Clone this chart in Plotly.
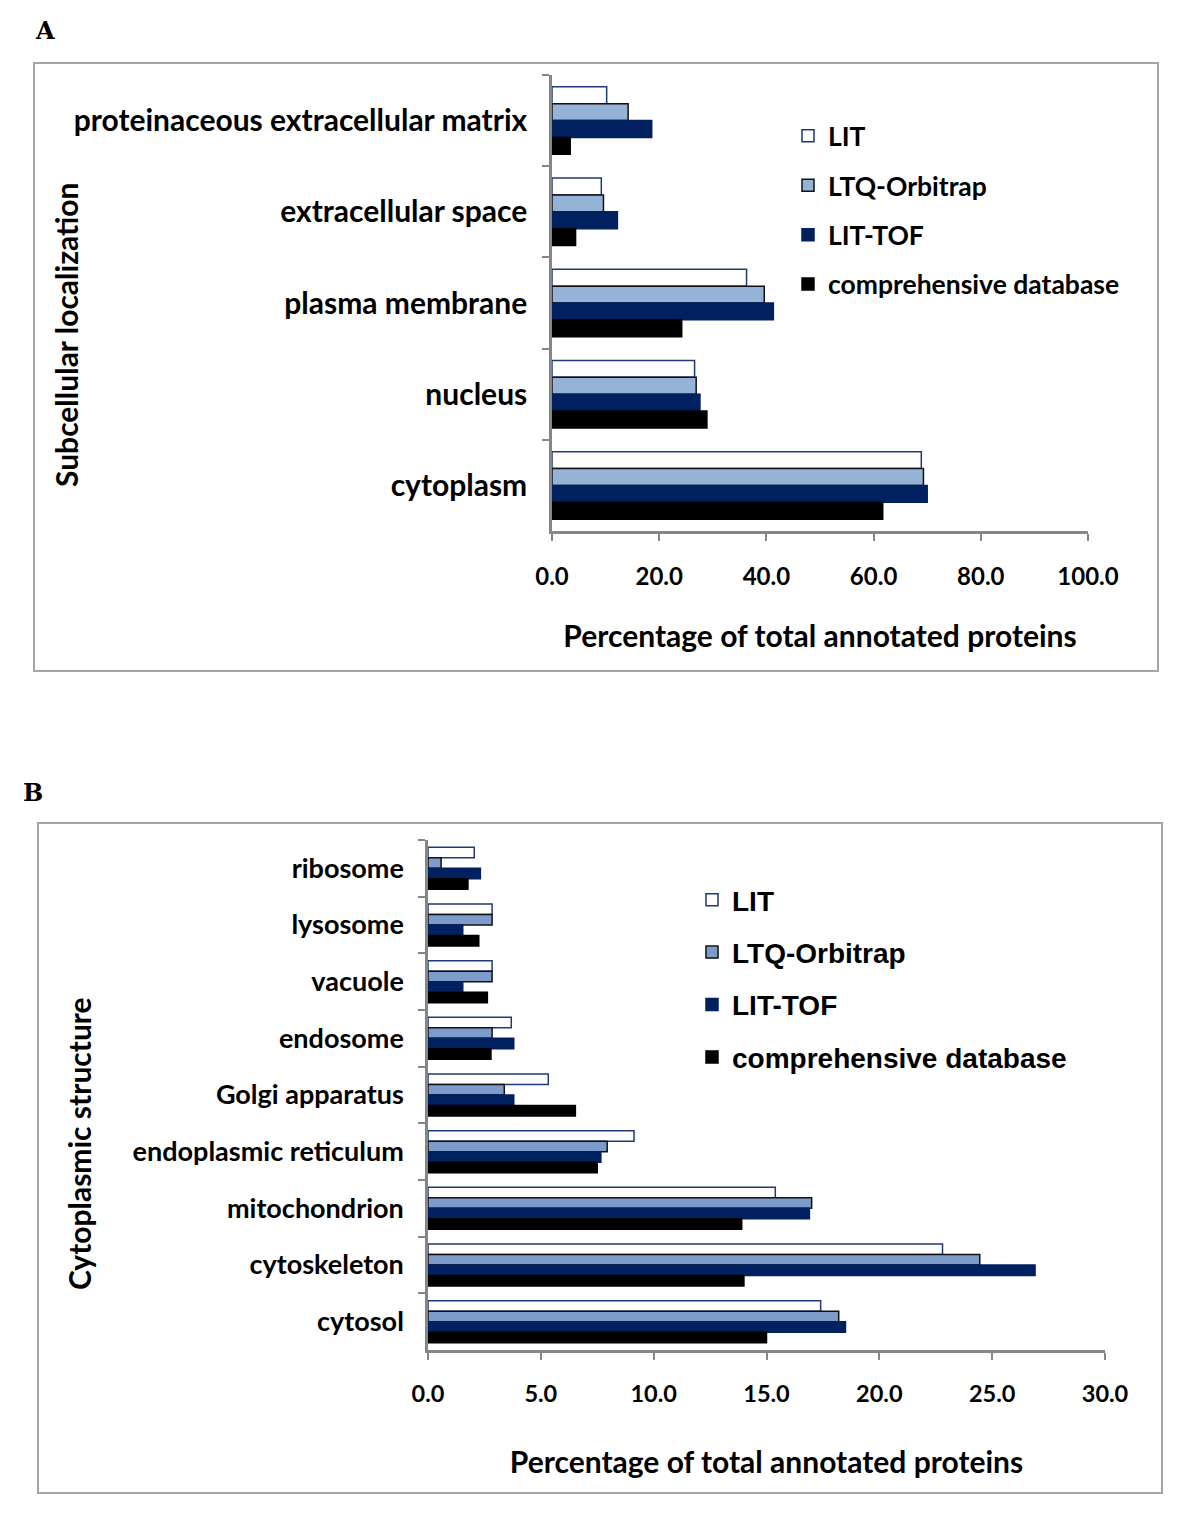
import plotly.graph_objects as go

W, H = 1200, 1534

# ---------------- data ----------------
series = ["LIT", "LTQ-Orbitrap", "LIT-TOF", "comprehensive database"]

cats_a = ["proteinaceous extracellular matrix", "extracellular space",
          "plasma membrane", "nucleus", "cytoplasm"]
lit_a = [10.2, 9.2, 36.3, 26.6, 68.9]
ltq_a = [14.2, 9.6, 39.6, 26.9, 69.3]
tof_a = [18.6, 12.2, 41.3, 27.6, 70.0]
comp_a = [3.4, 4.4, 24.2, 28.9, 61.7]

cats_b = ["ribosome", "lysosome", "vacuole", "endosome", "Golgi apparatus",
          "endoplasmic reticulum", "mitochondrion", "cytoskeleton", "cytosol"]
lit_b = [2.05, 2.84, 2.84, 3.69, 5.33, 9.13, 15.39, 22.8, 17.4]
ltq_b = [0.58, 2.84, 2.84, 2.84, 3.38, 7.94, 17.0, 24.45, 18.2]
tof_b = [2.32, 1.54, 1.54, 3.80, 3.80, 7.66, 16.9, 26.9, 18.5]
comp_b = [1.77, 2.25, 2.63, 2.79, 6.53, 7.5, 13.9, 14.0, 15.0]

xticks_a = [0, 20, 40, 60, 80, 100]
xticks_b = [0, 5, 10, 15, 20, 25, 30]

# ---------------- styles ----------------
fill_a = ["#FFFFFF", "#95B3D7", "#002060", "#000000"]
line_a = ["#1F3A78", "#111111", "#002060", "#000000"]
fill_b = ["#FFFFFF", "#7E9CCB", "#002060", "#000000"]
line_b = ["#1F3A78", "#111111", "#002060", "#000000"]

FONT_A = "Lato"
FONT_B = "Liberation Sans"
OFF = 8  # page body margin


def px(x):
    return (x - OFF) / W


def py(y):
    return 1 - (y - OFF) / H


fig = go.Figure()

for i, (name, vals) in enumerate(zip(series, [lit_a, ltq_a, tof_a, comp_a])):
    fig.add_trace(go.Bar(
        y=cats_a, x=vals, name=name, orientation="h",
        marker=dict(color=fill_a[i], line=dict(color=line_a[i], width=1.5)),
        xaxis="x", yaxis="y", legend="legend", legendgroup="a%d" % i,
    ))

for i, (name, vals) in enumerate(zip(series, [lit_b, ltq_b, tof_b, comp_b])):
    fig.add_trace(go.Bar(
        y=cats_b, x=vals, name=name, orientation="h",
        marker=dict(color=fill_b[i], line=dict(color=line_b[i], width=1.5)),
        xaxis="x2", yaxis="y2", legend="legend2", legendgroup="b%d" % i,
    ))

axis_color = "#868686"

fig.update_layout(
    width=W, height=H,
    margin=dict(l=0, r=0, t=0, b=0),
    paper_bgcolor="white", plot_bgcolor="white",
    barmode="group", bargap=0.26, bargroupgap=0,
    xaxis=dict(
        domain=[px(552), px(1088)], anchor="y", range=[0, 100],
        tickvals=xticks_a, ticktext=["%.1f" % v for v in xticks_a],
        showgrid=False, zeroline=False,
        showline=True, linecolor=axis_color, linewidth=2.5,
        ticks="outside", ticklen=7, tickwidth=2, tickcolor=axis_color,
        ticklabelstandoff=15,
        tickfont=dict(family=FONT_A, size=24, color="black", weight="bold"),
        title=dict(text="Percentage of total annotated proteins", standoff=38,
                   font=dict(family=FONT_A, size=30, color="black", weight="bold")),
        automargin=False,
    ),
    yaxis=dict(
        domain=[py(531), py(75)], anchor="x", autorange="reversed",
        type="category", categoryorder="array", categoryarray=cats_a,
        showgrid=False, zeroline=False,
        showline=True, linecolor=axis_color, linewidth=2.5,
        ticks="outside", ticklen=7, tickwidth=2, tickcolor=axis_color,
        tickson="boundaries", ticklabelstandoff=16,
        tickfont=dict(family=FONT_A, size=30, color="black", weight="bold"),
        automargin=False,
    ),
    xaxis2=dict(
        domain=[px(428), px(1105)], anchor="y2", range=[0, 30],
        tickvals=xticks_b, ticktext=["%.1f" % v for v in xticks_b],
        showgrid=False, zeroline=False,
        showline=True, linecolor=axis_color, linewidth=2.5,
        ticks="outside", ticklen=7, tickwidth=2, tickcolor=axis_color,
        ticklabelstandoff=14,
        tickfont=dict(family=FONT_A, size=23.5, color="black", weight="bold"),
        title=dict(text="Percentage of total annotated proteins", standoff=47,
                   font=dict(family=FONT_A, size=30, color="black", weight="bold")),
        automargin=False,
    ),
    yaxis2=dict(
        domain=[py(1350), py(840)], anchor="x2", autorange="reversed",
        type="category", categoryorder="array", categoryarray=cats_b,
        showgrid=False, zeroline=False,
        showline=True, linecolor=axis_color, linewidth=2.5,
        ticks="outside", ticklen=7, tickwidth=2, tickcolor=axis_color,
        tickson="boundaries", ticklabelstandoff=16,
        tickfont=dict(family=FONT_A, size=27, color="black", weight="bold"),
        automargin=False,
    ),
    legend=dict(
        x=px(788), y=py(112), xanchor="left", yanchor="top",
        font=dict(family=FONT_A, size=26.5, color="black", weight="bold"),
        tracegroupgap=12, bgcolor="rgba(0,0,0,0)", traceorder="grouped",
    ),
    legend2=dict(
        x=px(692), y=py(875), xanchor="left", yanchor="top",
        font=dict(family=FONT_B, size=28, color="black", weight="bold"),
        tracegroupgap=13, bgcolor="rgba(0,0,0,0)", traceorder="grouped",
    ),
    shapes=[
        dict(type="rect", xref="paper", yref="paper",
             x0=px(34), x1=px(1158), y0=py(671), y1=py(63),
             line=dict(color="#A6A6A6", width=2), fillcolor="rgba(0,0,0,0)"),
        dict(type="rect", xref="paper", yref="paper",
             x0=px(38), x1=px(1162), y0=py(1493), y1=py(823),
             line=dict(color="#A6A6A6", width=2), fillcolor="rgba(0,0,0,0)"),
    ],
    annotations=[
        dict(text="A", x=px(33), y=py(30), xref="paper", yref="paper",
             xanchor="left", yanchor="middle", showarrow=False,
             font=dict(family="DejaVu Serif", size=24, color="black", weight="bold")),
        dict(text="B", x=px(21), y=py(793), xref="paper", yref="paper",
             xanchor="left", yanchor="middle", showarrow=False,
             font=dict(family="DejaVu Serif", size=24, color="black", weight="bold")),
        dict(text="Subcellular localization", x=px(66), y=py(335),
             xref="paper", yref="paper", xanchor="center", yanchor="middle",
             textangle=-90, showarrow=False,
             font=dict(family=FONT_A, size=30, color="black", weight="bold")),
        dict(text="Cytoplasmic structure", x=px(79), y=py(1144),
             xref="paper", yref="paper", xanchor="center", yanchor="middle",
             textangle=-90, showarrow=False,
             font=dict(family=FONT_A, size=30, color="black", weight="bold")),
    ],
)

fig.write_html("out.html")
